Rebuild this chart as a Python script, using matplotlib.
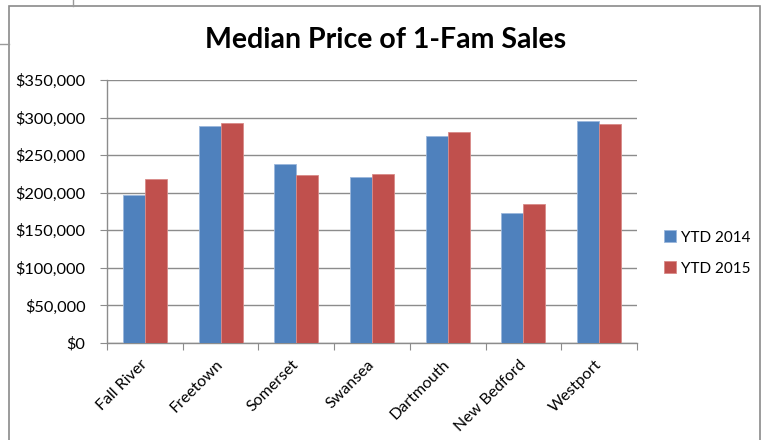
import matplotlib.pyplot as plt
import numpy as np
from matplotlib.lines import Line2D
from matplotlib.patches import Rectangle
from matplotlib.ticker import FuncFormatter, FixedLocator

towns = ['Fall River', 'Freetown', 'Somerset', 'Swansea', 'Dartmouth', 'New Bedford', 'Westport']
ytd_2014 = [197000, 288500, 238500, 221500, 276000, 172500, 295000]
ytd_2015 = [218000, 292500, 223500, 225000, 280500, 184500, 291000]
series_names = ['YTD 2014', 'YTD 2015']

plt.rcParams['font.family'] = ['Lato', 'DejaVu Sans']

fig = plt.figure(figsize=(7.68, 4.40), dpi=100)
W, H = 768.0, 440.0

# spreadsheet cell lines + chart frame
fig.add_artist(Line2D([73 / W, 73 / W], [1, 1 - 6 / H], color='#9a9a9a', lw=1))
fig.add_artist(Line2D([0, 9 / W], [1 - 44 / H, 1 - 44 / H], color='#9a9a9a', lw=1))
fig.add_artist(Rectangle((9 / W, -0.02), 751 / W, 1.02 - 6 / H, fill=False,
                         edgecolor='#8a8a8a', lw=1.2, transform=fig.transFigure))

ax = fig.add_axes([107 / W, (H - 343) / H, (637 - 107) / W, (343 - 80) / H])

x = np.arange(len(towns))
w = 0.29
ax.bar(x - w / 2, ytd_2014, w, color='#4F81BD', edgecolor='#9bb7dc', lw=0.6, label=series_names[0], zorder=3)
ax.bar(x + w / 2, ytd_2015, w, color='#C0504D', edgecolor='#d98a88', lw=0.6, label=series_names[1], zorder=3)

ax.set_xlim(-0.5, len(towns) - 0.5)
ax.set_ylim(0, 350000)
ax.yaxis.set_major_locator(FixedLocator(np.arange(0, 350001, 50000)))
ax.yaxis.set_major_formatter(FuncFormatter(lambda v, p: '${:,.0f}'.format(v)))
ax.grid(axis='y', color='#8c8c8c', lw=1.0, zorder=0)

ax.xaxis.set_major_locator(FixedLocator(np.arange(-0.5, len(towns), 1.0)))
ax.xaxis.set_major_formatter(FuncFormatter(lambda v, p: ''))
ax.xaxis.set_minor_locator(FixedLocator(x))
ax.set_xticklabels(towns, minor=True, rotation=45, ha='right', va='center',
                   rotation_mode='anchor', fontsize=11.5)
ax.tick_params(axis='x', which='minor', length=0, pad=14)
ax.tick_params(axis='x', which='major', length=5, color='#8c8c8c')
ax.tick_params(axis='y', length=5, color='#8c8c8c', labelsize=11.8, pad=10.5)

for s in ['top', 'right']:
    ax.spines[s].set_visible(False)
for s in ['left', 'bottom']:
    ax.spines[s].set_color('#8c8c8c')
    ax.spines[s].set_linewidth(1.0)

fig.text(386 / W, 1 - 40 / H, 'Median Price of 1-Fam Sales', ha='center', va='center',
         fontsize=20.5, fontweight='bold')

ax.legend(loc='center left', bbox_to_anchor=(650 / W, 1 - 253 / H), bbox_transform=fig.transFigure,
          frameon=False, fontsize=11, handlelength=0.8, handleheight=0.8, handletextpad=0.3,
          labelspacing=1.1)

fig.savefig('out.png', dpi=100)
